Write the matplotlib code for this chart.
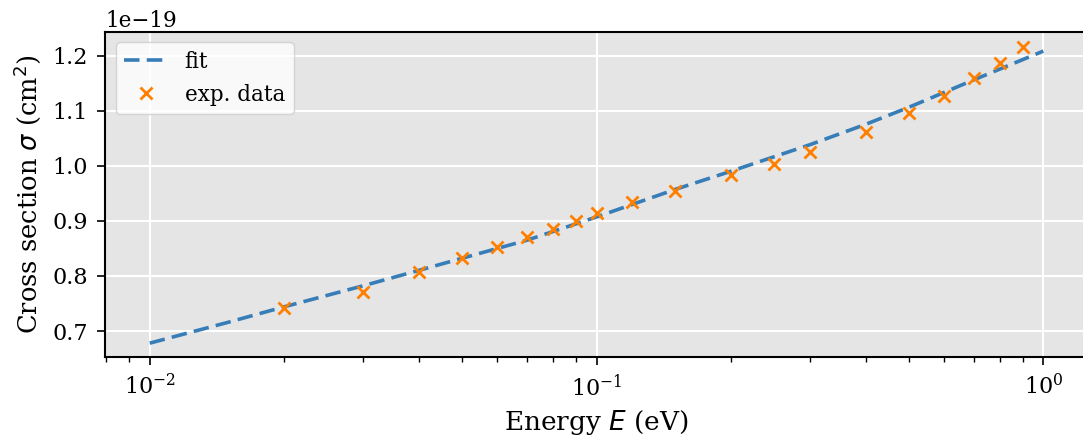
import matplotlib
matplotlib.use("Agg")
import matplotlib.pyplot as plt

# experimental cross section data (energy in eV, sigma in 1e-19 cm^2)
energy_exp = [0.02, 0.03, 0.04, 0.05, 0.06, 0.07, 0.08, 0.09, 0.1, 0.12,
              0.15, 0.2, 0.25, 0.3, 0.4, 0.5, 0.6, 0.7, 0.8, 0.9]
sigma_exp = [0.741, 0.771, 0.808, 0.833, 0.852, 0.870, 0.885, 0.900, 0.914, 0.934,
             0.955, 0.984, 1.004, 1.024, 1.061, 1.095, 1.127, 1.159, 1.187, 1.216]

# fitted curve
energy_fit = [0.01, 0.015, 0.02, 0.03, 0.04, 0.05, 0.07, 0.1, 0.15, 0.2,
              0.3, 0.4, 0.5, 0.7, 1.0]
sigma_fit = [0.678, 0.716, 0.744, 0.782, 0.810, 0.832, 0.865, 0.907, 0.957, 0.990,
             1.038, 1.075, 1.106, 1.156, 1.208]

plt.rcParams["font.family"] = "DejaVu Serif"
plt.rcParams["axes.formatter.use_mathtext"] = False

fig = plt.figure(figsize=(10.83, 4.41), dpi=100)
ax = fig.add_axes([0.097, 0.1905, 0.9076, 0.738])
ax.set_facecolor("#e5e5e5")

ax.plot(energy_fit, [s * 1e-19 for s in sigma_fit], "--", color="#377eb8",
        linewidth=2.6, dashes=(4.3, 2), label="fit", zorder=2)
ax.plot(energy_exp, [s * 1e-19 for s in sigma_exp], "x", color="#ff7f00",
        markersize=8.5, markeredgewidth=2, label="exp. data", zorder=3)

ax.set_xscale("log")
ax.set_xlim(10 ** -2.1, 10 ** 0.1)
ax.set_ylim(0.6529e-19, 1.2435e-19)

ax.grid(True, which="major", color="white", linewidth=1.5)
ax.set_axisbelow(True)
for side in ["left", "bottom", "top"]:
    ax.spines[side].set_linewidth(1.5)
    ax.spines[side].set_color("black")
ax.spines["right"].set_visible(False)

ax.tick_params(axis="both", which="major", labelsize=16, length=6, width=1.2, pad=6.5)
ax.tick_params(axis="x", which="minor", length=3.5, width=1.0)
ax.yaxis.get_offset_text().set_fontsize(15.5)

ax.set_xlabel("Energy $E$ (eV)", fontsize=19, labelpad=5)
ax.set_ylabel(r"Cross section $\sigma$ (cm$^2$)", fontsize=18.5)
ax.yaxis.set_label_coords(-0.063, 0.5)

ax.legend(loc="upper left", fontsize=15.5, framealpha=0.8, edgecolor="#cccccc",
          handlelength=2.0)

fig.savefig("out.png", dpi=100)
